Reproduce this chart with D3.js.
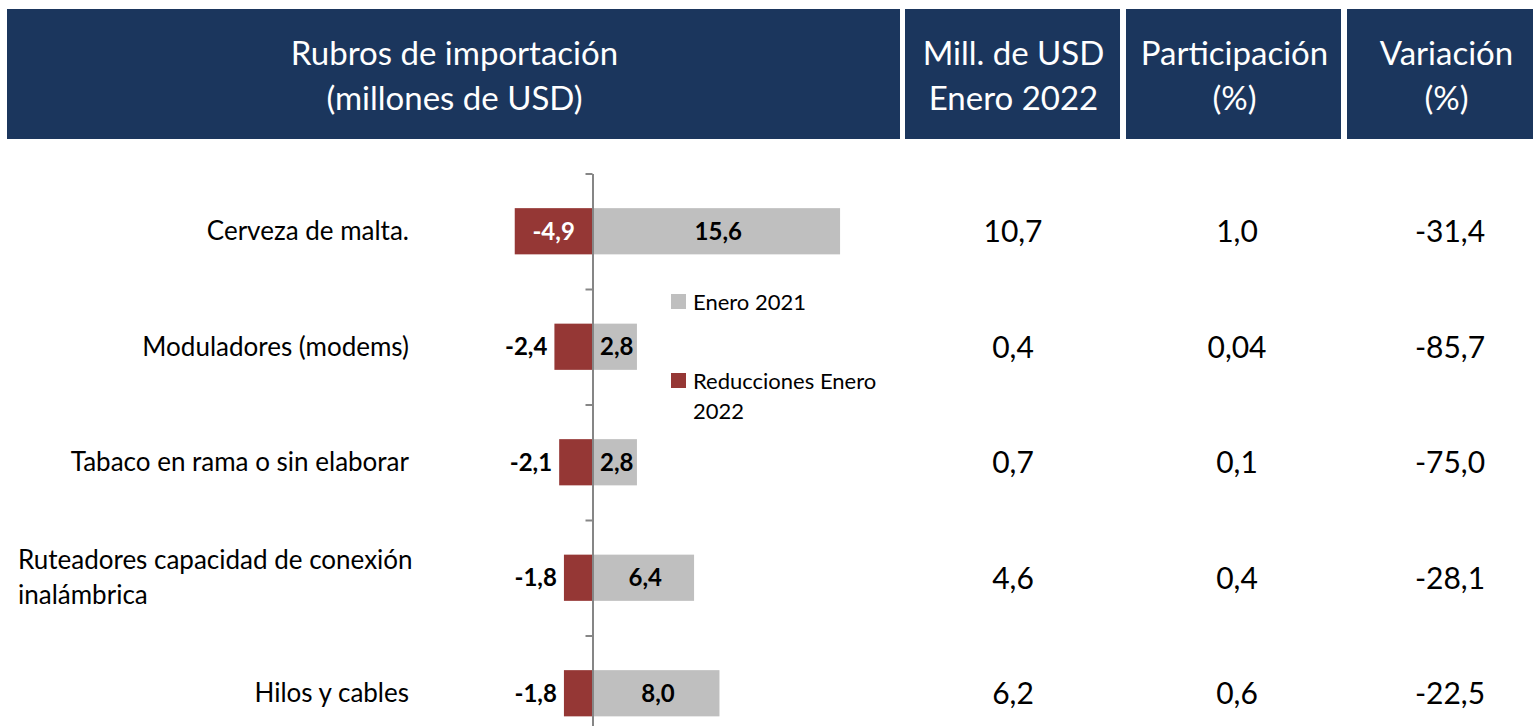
<!DOCTYPE html>
<html>
<head>
<meta charset="utf-8">
<script src="https://cdn.jsdelivr.net/npm/d3@7"></script>
<style>
  body { margin: 0; background: #fff; }
  svg { display: block; font-family: Lato, "Open Sans", sans-serif; }
</style>
</head>
<body>
<svg></svg>
<script>
let categories = ['Cerveza de malta.', 'Moduladores (modems)', 'Tabaco en rama o sin elaborar',
  'Ruteadores capacidad de conexión inalámbrica', 'Hilos y cables']
let enero2021 = [15.6, 2.8, 2.8, 6.4, 8.0]
let reducciones = [-4.9, -2.4, -2.1, -1.8, -1.8]

let millUsd = [10.7, 0.4, 0.7, 4.6, 6.2]
let participacion = [1.0, 0.04, 0.1, 0.4, 0.6]
let variacion = [-31.4, -85.7, -75.0, -28.1, -22.5]

let headers = [
  ['Rubros de importación', '(millones de USD)'],
  ['Mill. de USD', 'Enero 2022'],
  ['Participación', '(%)'],
  ['Variación', '(%)']
]
let legendNames = ['Enero 2021', 'Reducciones Enero 2022']

let width = 1533
let height = 726
let navy = '#1b365d'
let red = '#953735'
let grey = '#bfbfbf'

let svg = d3.select('svg').attr('width', width).attr('height', height)

let fmt = (n) => (Math.abs(n) < 0.1 && n !== 0 ? n.toFixed(2) : n.toFixed(1)).replace('.', ',')

// header boxes
let boxes = [[7, 900], [905, 1120], [1126, 1341], [1347, 1550]]
let headG = svg.append('g')
boxes.forEach((b, i) => {
  headG.append('rect')
    .attr('x', b[0]).attr('y', 9)
    .attr('width', b[1] - b[0]).attr('height', 130)
    .attr('fill', navy)
  headers[i].forEach((t, j) => {
    headG.append('text')
      .attr('x', (b[0] + b[1]) / 2 + (i == 3 ? -2 : 1))
      .attr('y', 65 + j * 45)
      .attr('text-anchor', 'middle')
      .attr('fill', '#fff')
      .style('font-size', '33px')
      .text(t)
  })
})

// scales
let yScale = d3.scaleBand()
  .domain(categories)
  .range([173.5, 751])
  .paddingInner(0.6)
  .paddingOuter(0.3)

let tickScale = d3.scaleLinear()
  .domain([0, categories.length])
  .range([173.5, 751])

let xScale = d3.scaleLinear()
  .domain([-5, 16])
  .range([592.5 - 5 * 15.87, 592.5 + 16 * 15.87])

// bars
svg.selectAll('.bar21')
  .data(enero2021)
  .enter()
  .append('rect')
  .attr('class', 'bar21')
  .attr('x', xScale(0))
  .attr('y', (d, i) => yScale(categories[i]))
  .attr('width', (d) => xScale(d) - xScale(0))
  .attr('height', yScale.bandwidth())
  .attr('fill', grey)

svg.selectAll('.barRed')
  .data(reducciones)
  .enter()
  .append('rect')
  .attr('class', 'barRed')
  .attr('x', (d) => xScale(d))
  .attr('y', (d, i) => yScale(categories[i]))
  .attr('width', (d) => xScale(0) - xScale(d))
  .attr('height', yScale.bandwidth())
  .attr('fill', red)

// axis
let yAxis = d3.axisLeft(tickScale)
  .tickValues(d3.range(categories.length + 1))
  .tickFormat('')
  .tickSize(7)
  .tickSizeOuter(0)

let axisG = svg.append('g')
  .attr('transform', 'translate(' + xScale(0) + ',0)')
  .call(yAxis)
axisG.select('.domain').attr('stroke', '#868686').attr('stroke-width', 2)
axisG.selectAll('.tick line').attr('stroke', '#868686').attr('stroke-width', 2)

// bar labels
svg.selectAll('.lab21')
  .data(enero2021)
  .enter()
  .append('text')
  .attr('x', (d) => (xScale(0) + xScale(d)) / 2 + 2)
  .attr('y', (d, i) => yScale(categories[i]) + yScale.bandwidth() / 2 + 8.5)
  .attr('text-anchor', 'middle')
  .style('font-size', '24px')
  .style('font-weight', 'bold')
  .attr('fill', '#000')
  .text((d) => fmt(d))

svg.selectAll('.labRed')
  .data(reducciones)
  .enter()
  .append('text')
  .attr('x', (d) => Math.abs(d) > 3 ? (xScale(0) + xScale(d)) / 2 : xScale(d) - 7)
  .attr('y', (d, i) => yScale(categories[i]) + yScale.bandwidth() / 2 + 8.5)
  .attr('text-anchor', (d) => Math.abs(d) > 3 ? 'middle' : 'end')
  .style('font-size', '24px')
  .style('font-weight', 'bold')
  .attr('fill', (d) => Math.abs(d) > 3 ? '#fff' : '#000')
  .text((d) => fmt(d))

// category labels
let wrapW = 402
categories.forEach((c, i) => {
  let cy = yScale(c) + yScale.bandwidth() / 2
  let t = svg.append('text')
    .attr('x', 409)
    .attr('y', cy + 9)
    .attr('text-anchor', 'end')
    .style('font-size', '26px')
    .attr('fill', '#000')
    .text(c)
  if (t.node().getComputedTextLength() > wrapW) {
    // wrap into lines, left aligned
    let words = c.split(' ')
    let lines = []
    let line = ''
    t.text('')
    words.forEach((w) => {
      let test = line ? line + ' ' + w : w
      t.text(test)
      if (t.node().getComputedTextLength() > wrapW && line) {
        lines.push(line)
        line = w
      } else {
        line = test
      }
    })
    lines.push(line)
    t.text('').attr('text-anchor', 'start')
    lines.forEach((l, j) => {
      t.append('tspan')
        .attr('x', 18)
        .attr('y', cy + 9 + (j - (lines.length - 1) / 2) * 35)
        .text(l)
    })
  }
})

// table columns
let cols = [millUsd, participacion, variacion]
let colX = [1013, 1237, 1450]
cols.forEach((col, k) => {
  svg.selectAll('.col' + k)
    .data(col)
    .enter()
    .append('text')
    .attr('x', colX[k])
    .attr('y', (d, i) => yScale(categories[i]) + yScale.bandwidth() / 2 + 11)
    .attr('text-anchor', 'middle')
    .style('font-size', '30px')
    .attr('fill', '#000')
    .text((d) => fmt(d))
})

// legend
let legend = svg.append('g')
let legendColors = [grey, red]
legendNames.forEach((n, i) => {
  let ly = 294 + i * 79
  legend.append('rect')
    .attr('x', 671).attr('y', ly)
    .attr('width', 15).attr('height', 15)
    .attr('fill', legendColors[i])
  let words = i == 1 ? ['Reducciones Enero', '2022'] : [n]
  words.forEach((w, j) => {
    legend.append('text')
      .attr('x', 693)
      .attr('y', ly + 16 + j * 30)
      .style('font-size', '22px')
      .attr('fill', '#000')
      .text(w)
  })
})
</script>
</body>
</html>
